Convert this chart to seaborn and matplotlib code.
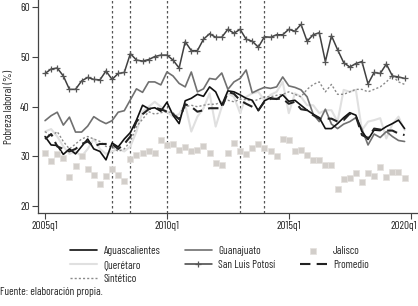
import numpy as np
import pandas as pd
import matplotlib
matplotlib.use("Agg")
import matplotlib.pyplot as plt
import matplotlib.transforms as mtransforms
import seaborn as sns

# 2005q1 .. 2019q4 (60 trimestres)
quarters = np.arange(60)
xtick_pos = [0, 20, 40, 60]
xtick_labels = ["2005q1", "2010q1", "2015q1", "2020q1"]
vlines = [11, 14, 20, 32, 36]

aguascalientes = [
    34.0, 32.3, 32.2, 30.4, 31.5, 30.5, 32.0, 33.5, 31.5, 31.0,
    29.3, 32.7, 31.9, 33.5, 34.8, 37.3, 40.3, 39.6, 39.8, 39.1,
    40.9, 38.3, 36.6, 41.2, 41.7, 42.5, 42.1, 44.0, 43.0, 40.3,
    43.2, 43.0, 42.4, 41.7, 41.3, 39.2, 41.2, 41.8, 41.5, 42.4,
    41.1, 41.3, 40.3, 39.3, 38.5, 37.8, 35.6, 35.6, 36.6, 37.8,
    38.8, 38.3, 35.0, 33.4, 35.3, 35.2, 36.0, 36.6, 37.3, 35.6,
]
guanajuato = [
    37.2, 38.2, 38.9, 36.3, 37.9, 34.9, 34.9, 36.1, 38.0, 37.2,
    36.6, 37.2, 38.9, 39.2, 41.4, 43.6, 42.9, 45.0, 45.0, 44.4,
    47.0, 46.2, 44.7, 44.0, 47.0, 43.0, 43.6, 45.7, 45.5, 46.8,
    43.5, 45.0, 45.7, 47.4, 42.8, 43.4, 43.9, 43.7, 44.0, 46.0,
    44.2, 43.9, 43.4, 42.0, 38.5, 37.0, 39.5, 36.5, 35.6, 36.5,
    37.0, 37.8, 35.5, 32.3, 34.5, 33.8, 35.0, 34.0, 33.2, 33.0,
]
jalisco = [
    30.6, 29.1, 30.4, 29.6, 25.9, 28.0, 30.0, 27.4, 26.3, 24.5,
    26.1, 27.5, 26.3, 25.1, 29.4, 30.2, 30.6, 31.1, 30.6, 33.2,
    32.3, 32.4, 31.2, 31.8, 31.1, 31.2, 32.0, 30.6, 28.6, 28.2,
    30.6, 32.7, 31.1, 30.4, 31.7, 32.5, 31.7, 31.0, 30.1, 33.6,
    33.4, 31.0, 31.2, 30.2, 29.3, 29.3, 28.3, 28.2, 23.5, 25.5,
    25.6, 26.6, 24.9, 26.6, 26.1, 27.9, 25.8, 26.8, 26.8, 25.7,
]
queretaro = [
    35.0, 35.5, 34.0, 32.0, 30.5, 31.0, 30.0, 31.5, 33.5, 31.5,
    30.5, 31.0, 31.5, 31.0, 32.0, 35.0, 39.0, 40.0, 41.0, 40.0,
    39.0, 38.0, 38.5, 40.5, 35.0, 38.0, 39.7, 42.7, 36.0, 40.0,
    42.7, 42.0, 38.7, 42.0, 42.7, 43.0, 41.3, 42.4, 43.0, 45.0,
    38.7, 42.7, 42.0, 40.3, 40.3, 38.7, 39.3, 39.3, 37.0, 43.4,
    43.0, 43.4, 35.3, 37.0, 37.3, 37.7, 33.6, 36.5, 38.0, 35.3,
]
san_luis_potosi = [
    46.7, 47.6, 47.8, 46.2, 43.5, 43.5, 45.2, 45.9, 45.5, 45.4,
    47.2, 45.5, 46.7, 46.9, 50.7, 49.4, 49.2, 49.5, 50.1, 50.4,
    50.4, 49.4, 47.8, 53.1, 51.3, 51.3, 53.6, 54.7, 54.0, 54.0,
    55.6, 54.8, 55.6, 53.6, 53.2, 52.0, 54.1, 54.0, 54.5, 54.5,
    55.6, 55.2, 56.6, 53.2, 54.5, 54.9, 49.1, 54.3, 51.5, 48.9,
    48.0, 48.7, 49.1, 44.6, 46.9, 46.7, 48.6, 46.2, 46.0, 45.7,
]
promedio = [
    33.5, 34.5, 32.0, 31.5, 31.0, 31.5, 32.5, 33.0, 32.0, 32.5,
    32.5, 32.5, 31.5, 32.5, 34.0, 37.0, 38.5, 39.5, 39.8, 39.5,
    39.0, 38.5, 37.5, 40.5, 40.0, 39.0, 39.3, 39.7, 39.7, 39.7,
    43.0, 42.6, 41.3, 40.6, 40.0, 39.3, 41.0, 41.6, 41.6, 41.6,
    40.6, 41.0, 39.5, 39.3, 38.3, 37.6, 37.6, 37.6, 37.0, 37.3,
    38.6, 38.1, 34.3, 33.7, 35.6, 35.4, 35.2, 35.2, 34.6, 34.3,
]
sintetico = [
    35.0, 34.0, 35.0, 33.0, 31.5, 32.5, 33.5, 34.0, 33.5, 33.0,
    32.0, 32.0, 31.0, 31.5, 33.0, 36.0, 37.5, 39.0, 38.5, 38.8,
    39.0, 38.8, 37.5, 40.0, 40.3, 40.0, 40.3, 40.5, 40.5, 41.0,
    41.3, 41.0, 41.5, 41.5, 41.0, 41.5, 42.0, 42.0, 42.3, 42.5,
    43.0, 42.5, 42.0, 43.5, 44.5, 45.0, 43.0, 44.5, 42.5, 42.5,
    43.0, 43.5, 43.5, 43.0, 43.5, 44.0, 45.0, 46.2, 45.0, 44.5,
]

sns.set_style("ticks")
# fuente condensada parecida a la original
plt.rcParams["font.family"] = ["Barlow Condensed", "Archivo Narrow", "DejaVu Sans"]
plt.rcParams["font.size"] = 8

fig = plt.figure(figsize=(4.18, 3.06), dpi=100)
ax = fig.add_axes([0.091, 0.304, 0.909, 0.696])

for v in vlines:
    ax.axvline(v, color="#555555", lw=0.9, ls=(0, (2, 2)), zorder=1)

sns.lineplot(x=quarters, y=queretaro, ax=ax, color="#e0e0e0", lw=1.5, label="Querétaro")
sns.lineplot(x=quarters, y=sintetico, ax=ax, color="#8a8a8a", lw=1.0, ls=(0, (1.5, 1.5)), label="Sintético")
sns.lineplot(x=quarters, y=guanajuato, ax=ax, color="#707070", lw=1.2, label="Guanajuato")
sns.lineplot(x=quarters, y=aguascalientes, ax=ax, color="#111111", lw=1.2, label="Aguascalientes")
sns.lineplot(x=quarters, y=promedio, ax=ax, color="#222222", lw=1.5, ls=(0, (5, 3)), label="Promedio")
sns.lineplot(x=quarters, y=san_luis_potosi, ax=ax, color="#404040", lw=1.1, marker="+",
             markersize=5, markeredgewidth=0.9, markeredgecolor="#555555", label="San Luis Potosí")
sns.scatterplot(x=quarters, y=jalisco, ax=ax, marker="s", s=16, color="#d2ceca",
                edgecolor="#e4e1de", linewidth=0.5, label="Jalisco", zorder=2)

ax.set_xlim(-1.15, 61.2)
ax.set_ylim(18.6, 61.5)
ax.set_xticks(xtick_pos)
ax.set_xticklabels(xtick_labels)
ax.set_yticks([20, 30, 40, 50, 60])
ax.set_ylabel("Pobreza laboral (%)")
ax.yaxis.set_label_coords(-0.062, 0.5)
ax.tick_params(length=4, width=0.8, color="#444444", pad=2, labelcolor="#222222")
sns.despine(ax=ax)
for s in ["left", "bottom"]:
    ax.spines[s].set_color("#444444")
    ax.spines[s].set_linewidth(0.9)

# la última etiqueta queda pegada al borde derecho
last = ax.get_xticklabels()[-1]
last.set_transform(last.get_transform() + mtransforms.ScaledTranslation(-7 / 100, 0, fig.dpi_scale_trans))

handles, labels = ax.get_legend_handles_labels()
ax.get_legend().remove()
order = ["Aguascalientes", "Querétaro", "Sintético", "Guanajuato", "San Luis Potosí", "Jalisco", "Promedio"]
hmap = dict(zip(labels, handles))
fig.legend([hmap[k] for k in order], order, ncol=3, loc="upper left",
           bbox_to_anchor=(0.155, 0.215), frameon=False, handlelength=2.4,
           labelspacing=0.35, columnspacing=2.2, handletextpad=0.6, borderpad=0)

fig.text(0.0, 0.045, "Fuente: elaboración propia.", ha="left", va="center")

fig.savefig("out.png", dpi=100)
